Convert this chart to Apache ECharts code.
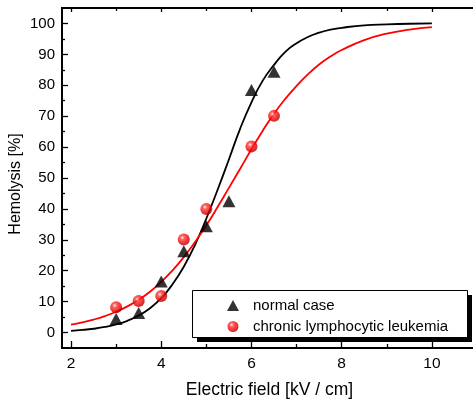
<!DOCTYPE html>
<html><head><meta charset="utf-8">
<script src="https://cdn.jsdelivr.net/npm/echarts@6/dist/echarts.min.js"></script>
<style>html,body{margin:0;padding:0;background:#fff}#c{width:473px;height:400px}</style>
</head><body><div id="c"></div>
<script>
// measured points
var fieldPts = [3, 3.5, 4, 4.5, 5, 5.5, 6, 6.5];
var normalCase = [4.4, 6.3, 16.5, 26.3, 34.4, 42.5, 78.5, 84.4];
var leukFieldPts = [3, 3.5, 4, 4.5, 5, 6, 6.5];
var leukemia = [8.2, 10.2, 11.8, 30.1, 40, 60.2, 70.1];
// fitted curves
var curveX = [2,2.25,2.5,2.75,3,3.25,3.5,3.75,4,4.25,4.5,4.75,5,5.25,5.5,5.75,6,6.25,6.5,6.75,7,7.25,7.5,7.75,8,8.5,9,9.5,10];
var normalFit = [0.57,0.84,1.23,1.8,2.62,3.8,5.49,7.86,11.1,15.6,21.3,28.4,36.9,46.2,56,66,74.5,81.5,86.6,90.8,93.6,95.6,97,98,98.6,99.4,99.7,99.9,100];
var leukFit = [2.58,3.29,4.19,5.32,6.73,8.47,10.6,13.2,16.4,20.1,24.4,29.3,34.7,40.6,46.8,53,59.3,65.3,70.8,75.6,79.8,83.5,86.7,89.3,91.4,94.6,96.7,98,98.8];
var xMajor = [2, 4, 6, 8, 10];
var xMinor = [3, 5, 7, 9];
var yMajor = [0,10,20,30,40,50,60,70,80,90,100];
var yMinor = [5,15,25,35,45,55,65,75,85,95];
var seriesNames = ['normal case', 'chronic lymphocytic leukemia'];

function zip(a, b){ return a.map(function(v,i){ return [v, b[i]]; }); }

var font = 'Liberation Sans, Arial, sans-serif';
var lineStyle = {color:'#000', width:2};
function xAx(pos, ticks, len, labels){
  return {type:'value', min:1.8, max:11, position:pos,
    axisLine:{show:true, onZero:false, lineStyle:lineStyle},
    axisTick:{show:true, inside:true, length:len, customValues:ticks, lineStyle:{color:'#000', width:1.3}},
    axisLabel:{show:!!labels, customValues:ticks, color:'#000', fontSize:15.5, fontFamily:font, margin:8},
    splitLine:{show:false}};
}
function yAx(pos, ticks, len, labels){
  return {type:'value', min:-5, max:105, position:pos,
    axisLine:{show:true, onZero:false, lineStyle:lineStyle},
    axisTick:{show:true, inside:true, length:len, customValues:ticks, lineStyle:{color:'#000', width:1.3}},
    axisLabel:{show:!!labels, customValues:ticks, color:'#000', fontSize:15, fontFamily:font, margin:7},
    splitLine:{show:false}};
}
var xA = [xAx('bottom', xMajor, 7, true), xAx('bottom', xMinor, 4), xAx('top', xMajor, 4), xAx('top', xMinor, 3)];
xA[0].name = 'Electric field [kV / cm]';
xA[0].nameLocation = 'middle';
xA[0].nameGap = 33;
xA[0].nameMoveOverlap = false;
xA[0].nameTextStyle = {color:'#000', fontSize:17.5, fontFamily:font};
var yA = [yAx('left', yMajor, 6, true), yAx('left', yMinor, 3)];
yA[0].name = 'Hemolysis [%]';
yA[0].nameLocation = 'middle';
yA[0].nameGap = 38;
yA[0].nameMoveOverlap = false;
yA[0].nameTextStyle = {color:'#000', fontSize:16, fontFamily:font, padding:[0,0,0,-12]};

var redBall = {type:'radial', x:0.38, y:0.35, r:0.65, colorStops:[
  {offset:0, color:'#ffffff'}, {offset:0.25, color:'#ff4040'}, {offset:0.7, color:'#ee0000'}, {offset:1, color:'#b00000'}]};

var chart = echarts.init(document.getElementById('c'), null, {renderer:'canvas'});
chart.setOption({
  animation:false,
  grid:{left:62, top:8, right:-4, bottom:52, containLabel:false, outerBoundsMode:'none'},
  xAxis:xA, yAxis:yA,
  graphic:[
    {type:'rect', z:50, shape:{x:197, y:295, width:275, height:47}, style:{fill:'#000'}},
    {type:'rect', z:51, shape:{x:192.5, y:290.5, width:275, height:47}, style:{fill:'#fff', stroke:'#000', lineWidth:1}}
  ],
  legend:{
    z:60,
    data:[{name:seriesNames[0], icon:'triangle', itemStyle:{color:'#000'}}, {name:seriesNames[1], icon:'circle', itemStyle:{color:redBall}}],
    orient:'vertical', left:192, top:290,
    itemWidth:12, itemHeight:11, itemGap:6,
    padding:[8, 10, 6, 35],
    textStyle:{color:'#000', fontSize:15, fontFamily:font, lineHeight:14, padding:[0,0,0,9]}
  },
  series:[
    {type:'line', name:'fit1', data:zip(curveX, normalFit), smooth:true, symbol:'none', lineStyle:{color:'#000', width:1.8}, z:2},
    {type:'line', name:'fit2', data:zip(curveX, leukFit), smooth:true, symbol:'none', lineStyle:{color:'#ff0000', width:1.8}, z:2},
    {type:'scatter', name:seriesNames[0], data:zip(fieldPts, normalCase), symbol:'triangle', symbolSize:[13,12], itemStyle:{color:'#000'}, z:4},
    {type:'scatter', name:seriesNames[1], data:zip(leukFieldPts, leukemia), symbol:'circle', symbolSize:12, itemStyle:{color:redBall}, z:5}
  ]
});
</script></body></html>
